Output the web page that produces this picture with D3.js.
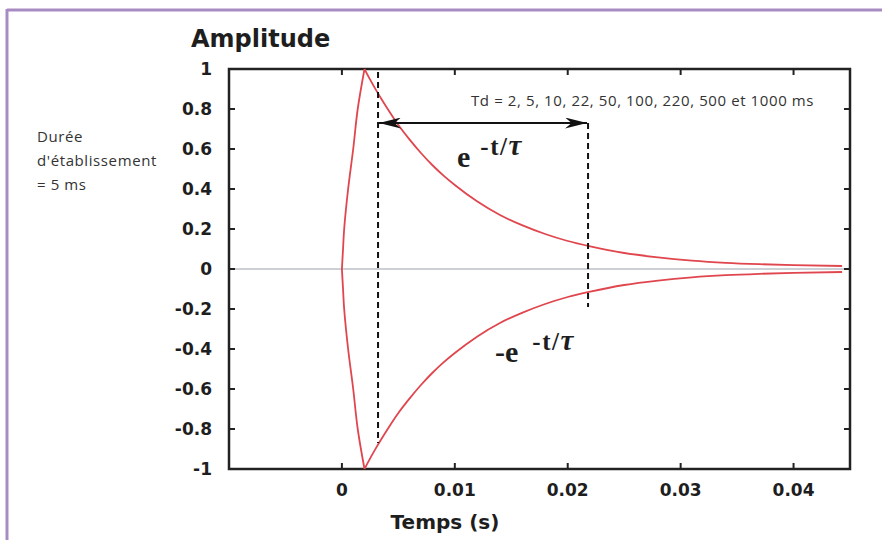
<!DOCTYPE html>
<html>
<head>
<meta charset="utf-8">
<script src="https://cdn.jsdelivr.net/npm/d3@7"></script>
<style>
  body { margin: 0; background: #fff; }
  svg { display: block; }
  .tick-label { font-family: "DejaVu Sans", sans-serif; font-weight: bold; font-size: 17px; fill: #1e1e1e; }
  .axis-title { font-family: "DejaVu Sans", sans-serif; font-weight: bold; fill: #1e1e1e; }
  .note { font-family: "Open Sans", sans-serif; font-size: 15px; fill: #333; letter-spacing: 0.6px; }
  .formula { font-family: "Liberation Serif", "DejaVu Serif", "Times New Roman", serif; font-weight: bold; fill: #1e1e1e; }
</style>
</head>
<body>
<svg id="chart" width="882" height="540"></svg>
<script>
// tick values
const xTicks = [0, 0.01, 0.02, 0.03, 0.04];
const yTicks = [-1, -0.8, -0.6, -0.4, -0.2, 0, 0.2, 0.4, 0.6, 0.8, 1];

// rising part (establishment) then decay, time in s
const riseT = [0, 0.0001, 0.0002, 0.00055, 0.001, 0.0014, 0.002];
const riseA = [0, 0.1, 0.2, 0.4, 0.6, 0.8, 1];
const decayT = [0.002, 0.0025, 0.003, 0.0035, 0.004, 0.005, 0.006, 0.007, 0.008, 0.009, 0.010, 0.012, 0.014, 0.016, 0.018, 0.020, 0.022, 0.025, 0.028, 0.031, 0.034, 0.037, 0.040, 0.0443];
const decayA = [1, 0.947, 0.897, 0.85, 0.805, 0.72, 0.647, 0.58, 0.52, 0.467, 0.42, 0.337, 0.27, 0.218, 0.175, 0.14, 0.113, 0.08, 0.058, 0.042, 0.031, 0.024, 0.019, 0.015];

// annotation markers
const dashT = [0.0032, 0.0218];
const dashTop = [0.985, 0.73];
const dashBottom = [-0.87, -0.19];
const arrowY = 0.73;

const svg = d3.select("#chart");

// purple frame of the figure
svg.append("line").attr("x1", 7).attr("y1", 10).attr("x2", 882).attr("y2", 10)
    .attr("stroke", "#a98bc4").attr("stroke-width", 3);
svg.append("line").attr("x1", 7).attr("y1", 9).attr("x2", 7).attr("y2", 540)
    .attr("stroke", "#a98bc4").attr("stroke-width", 3);

const plotL = 229, plotR = 850, plotT = 69, plotB = 469;
const x = d3.scaleLinear().domain([-0.01, 0.045]).range([plotL, plotR]);
const y = d3.scaleLinear().domain([-1, 1]).range([plotB, plotT]);

// zero line
svg.append("line")
    .attr("x1", plotL).attr("x2", plotR)
    .attr("y1", y(0)).attr("y2", y(0))
    .attr("stroke", "#9aa0aa").attr("stroke-width", 1);

// inward ticks on all four sides
const tickLen = 6;
xTicks.forEach(t => {
    svg.append("line").attr("x1", x(t)).attr("x2", x(t))
        .attr("y1", plotB).attr("y2", plotB - tickLen)
        .attr("stroke", "#222").attr("stroke-width", 2);
    svg.append("line").attr("x1", x(t)).attr("x2", x(t))
        .attr("y1", plotT).attr("y2", plotT + tickLen)
        .attr("stroke", "#222").attr("stroke-width", 2);
    svg.append("text").attr("class", "tick-label")
        .attr("x", x(t)).attr("y", plotB + 27)
        .attr("text-anchor", "middle")
        .text(t.toString());
});
yTicks.forEach(v => {
    svg.append("line").attr("x1", plotL).attr("x2", plotL + tickLen)
        .attr("y1", y(v)).attr("y2", y(v))
        .attr("stroke", "#222").attr("stroke-width", 2);
    svg.append("line").attr("x1", plotR).attr("x2", plotR - tickLen)
        .attr("y1", y(v)).attr("y2", y(v))
        .attr("stroke", "#222").attr("stroke-width", 2);
    svg.append("text").attr("class", "tick-label")
        .attr("x", 212).attr("y", y(v) + 6)
        .attr("text-anchor", "end")
        .text(v.toString());
});

// plot box
svg.append("rect")
    .attr("x", plotL).attr("y", plotT)
    .attr("width", plotR - plotL).attr("height", plotB - plotT)
    .attr("fill", "none").attr("stroke", "#222").attr("stroke-width", 2.5);

// curves
const decayLine = d3.line().x(d => x(d[0])).y(d => y(d[1])).curve(d3.curveMonotoneX);
const riseLine = d3.line().x(d => x(d[0])).y(d => y(d[1])).curve(d3.curveCatmullRom);

[1, -1].forEach(sign => {
    const rise = riseT.map((t, i) => [t, sign * riseA[i]]);
    const decay = decayT.map((t, i) => [t, sign * decayA[i]]);
    svg.append("path").datum(rise)
        .attr("d", riseLine)
        .attr("fill", "none").attr("stroke", "#e0464e").attr("stroke-width", 1.8);
    svg.append("path").datum(decay)
        .attr("d", decayLine)
        .attr("fill", "none").attr("stroke", "#e0464e").attr("stroke-width", 1.8);
});

// dashed markers
dashT.forEach((t, i) => {
    svg.append("line")
        .attr("x1", x(t)).attr("x2", x(t))
        .attr("y1", y(dashTop[i])).attr("y2", y(dashBottom[i]))
        .attr("stroke", "#111").attr("stroke-width", 2)
        .attr("stroke-dasharray", "6,4");
});

// double arrow
svg.append("defs").append("marker")
    .attr("id", "head").attr("viewBox", "0 0 10 10")
    .attr("refX", 10).attr("refY", 5)
    .attr("markerWidth", 22).attr("markerHeight", 11)
    .attr("markerUnits", "userSpaceOnUse")
    .attr("orient", "auto-start-reverse")
    .attr("preserveAspectRatio", "none")
    .append("path").attr("d", "M0,0 L10,5 L0,10 L3,5 Z").attr("fill", "#111");
svg.append("line")
    .attr("x1", x(dashT[0]) + 1).attr("x2", x(dashT[1]) - 1)
    .attr("y1", y(arrowY)).attr("y2", y(arrowY))
    .attr("stroke", "#111").attr("stroke-width", 2)
    .attr("marker-start", "url(#head)").attr("marker-end", "url(#head)");

// titles
svg.append("text").attr("class", "axis-title")
    .attr("x", 191).attr("y", 47).style("font-size", "24px").text("Amplitude");
svg.append("text").attr("class", "axis-title")
    .attr("x", 445).attr("y", 529).style("font-size", "20px")
    .attr("text-anchor", "middle").text("Temps (s)");

// side note
const note = ["Durée", "d'établissement", "= 5 ms"];
note.forEach((s, i) => {
    svg.append("text").attr("class", "note")
        .attr("x", 37).attr("y", 142 + i * 24).text(s);
});

svg.append("text").attr("class", "note")
    .attr("x", 471).attr("y", 106).text("Td = 2, 5, 10, 22, 50, 100, 220, 500 et 1000 ms");

// formulas
function formula(xp, yp, base, gap) {
    const t = svg.append("text").attr("class", "formula")
        .attr("x", xp).attr("y", yp).style("font-size", "30px");
    t.append("tspan").text(base);
    t.append("tspan").attr("dx", gap).attr("dy", -12)
        .style("font-size", "25px").style("letter-spacing", "1.5px").text("-t/");
    t.append("tspan").style("font-size", "29px").style("font-style", "italic").text("τ");
}
formula(457, 167, "e", 10);
formula(495, 362, "-e", 14);
</script>
</body>
</html>
